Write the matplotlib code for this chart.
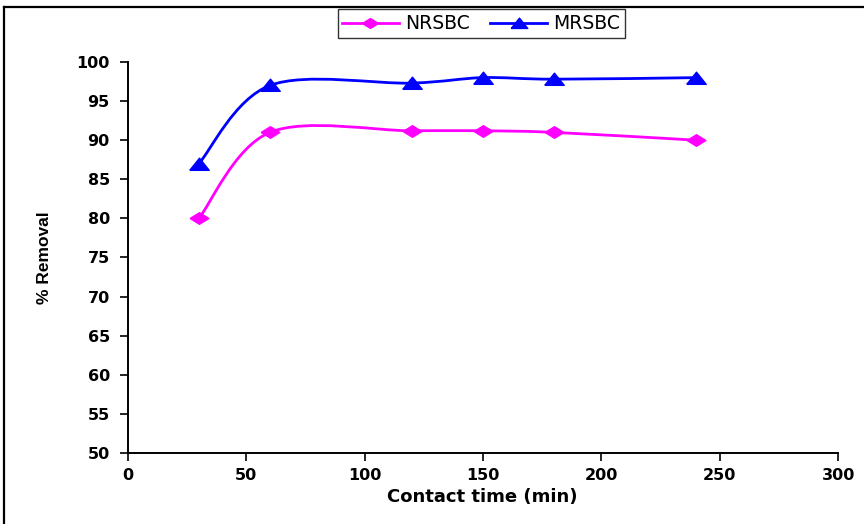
import numpy as np
import matplotlib.pyplot as plt
from matplotlib.path import Path
from matplotlib.patches import PathPatch
from matplotlib.lines import Line2D

plt.rcParams['font.family'] = ['DejaVu Sans']

# contact time (min) and % removal for each adsorbent
time_min = [30, 60, 120, 150, 180, 240]
nrsbc = [80, 91, 91.2, 91.2, 91, 90]
mrsbc = [87, 97, 97.3, 98, 97.8, 98]

# wide, flat marker shapes
diamond = [(-1, 0), (0, 0.62), (1, 0), (0, -0.62), (-1, 0)]
triangle = [(-1, -0.6), (1, -0.6), (0, 0.65), (-1, -0.6)]


def smooth_path(x, y):
    # excel-like smoothed line: cubic bezier segments through every point
    pts = np.column_stack([x, y]).astype(float)
    n = len(pts)
    verts = [pts[0]]
    codes = [Path.MOVETO]
    for i in range(n - 1):
        p0 = pts[max(i - 1, 0)]
        p1 = pts[i]
        p2 = pts[i + 1]
        p3 = pts[min(i + 2, n - 1)]
        c1 = p1 + (p2 - p0) / 6.0
        c2 = p2 - (p3 - p1) / 6.0
        verts += [c1, c2, p2]
        codes += [Path.CURVE4] * 3
    return Path(verts, codes)


fig = plt.figure(figsize=(8.64, 5.24), dpi=100)
ax = fig.add_axes([0.148, 0.1355, 0.822, 0.7462])

series = [
    (nrsbc, '#FF00FF', diamond, 13.5, 'NRSBC'),
    (mrsbc, '#0000FF', triangle, 14, 'MRSBC'),
]
handles = []
for vals, col, mk, ms, name in series:
    ax.add_patch(PathPatch(smooth_path(time_min, vals), fill=False,
                           edgecolor=col, lw=2.0, zorder=2))
    ax.plot(time_min, vals, ls='none', marker=mk, ms=ms, color=col, zorder=3)
    handles.append(Line2D([], [], color=col, lw=2.0, marker=mk, ms=ms * 0.85,
                          label=name))

ax.set_xlim(0, 300)
ax.set_ylim(50, 100)
ax.set_xticks(np.arange(0, 301, 50))
ax.set_yticks(np.arange(50, 101, 5))
for s in ['top', 'right']:
    ax.spines[s].set_visible(False)
for s in ['left', 'bottom']:
    ax.spines[s].set_linewidth(1.4)
ax.tick_params(direction='out', length=6, width=1.2, labelsize=11.5)
ax.tick_params(axis='y', pad=7)
ax.tick_params(axis='x', pad=5)
for lab in ax.get_xticklabels() + ax.get_yticklabels():
    lab.set_fontweight('bold')

ax.set_xlabel('Contact time (min)', fontsize=13, fontweight='bold')
ax.xaxis.set_label_coords(0.499, -0.1125)
ax.xaxis.label.set_verticalalignment('center')
ax.set_ylabel('% Removal', fontsize=12.5, fontweight='bold',
              family=['Liberation Sans', 'DejaVu Sans'])
ax.yaxis.set_label_coords(-0.117, 0.5)
ax.yaxis.label.set_verticalalignment('center')

fig.legend(handles=handles, loc='center', bbox_to_anchor=(0.557, 0.955),
           ncol=2, frameon=True, fancybox=False, edgecolor='black',
           fontsize=13.5, handlelength=3.0, columnspacing=1.1,
           handletextpad=0.35, borderpad=0.25, borderaxespad=0)

# chart border (top and left edges)
fig.add_artist(Line2D([0.005, 1.0], [0.987, 0.987], color='black', lw=1.6,
                      transform=fig.transFigure))
fig.add_artist(Line2D([0.005, 0.005], [0.0, 0.987], color='black', lw=1.6,
                      transform=fig.transFigure))

fig.savefig('out.png', dpi=100)
